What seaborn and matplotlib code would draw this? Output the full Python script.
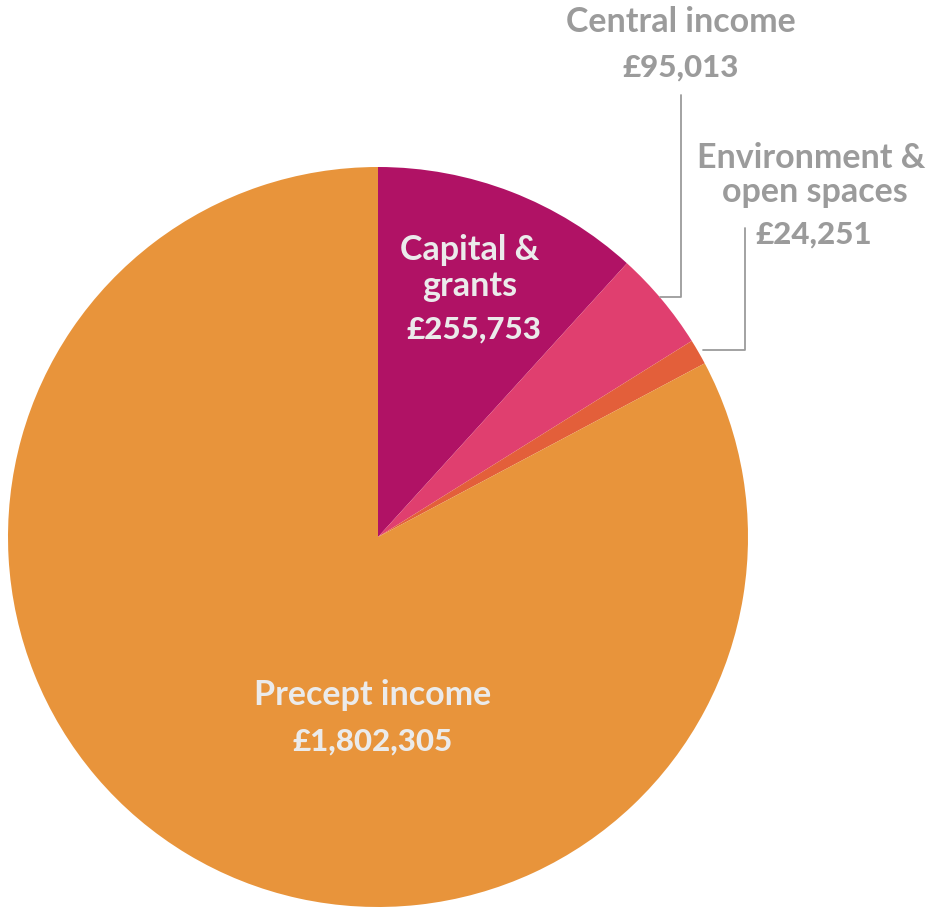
import matplotlib
matplotlib.use("Agg")
import matplotlib.pyplot as plt
import seaborn as sns

# -----------------------------
# Data
# -----------------------------
categories = ["Capital & grants", "Central income", "Environment & open spaces", "Precept income"]
values = [255753, 95013, 24251, 1802305]
value_labels = ["£255,753", "£95,013", "£24,251", "£1,802,305"]
slice_colors = ["#B01265", "#E03F6F", "#E35F3A", "#E8943B"]

# -----------------------------
# Style
# -----------------------------
sns.set_theme(style="white")
plt.rcParams['font.family'] = ['Lato', 'DejaVu Sans']
palette = sns.color_palette(slice_colors)

light = "#EBEBEB"
grey = "#9B9B9B"

W, H = 940, 908
fig = plt.figure(figsize=(W / 100, H / 100), dpi=100)
ax = fig.add_axes([0, 0, 1, 1])

cx, cy, r = 378, H - 537, 370
ax.pie(values, colors=palette, startangle=90, counterclock=False,
       center=(cx, cy), radius=r, wedgeprops=dict(linewidth=0))
ax.set_xlim(0, W)
ax.set_ylim(0, H)
ax.set_aspect("equal")
ax.axis("off")


def txt(x, y, s, color, size=24.5, weight="bold"):
    ax.text(x, H - y, s, ha="center", va="center", color=color,
            fontsize=size, fontweight=weight)


# labels inside slices
txt(470, 250, "Capital &", light)
txt(470, 286, "grants", light)
txt(474, 330, value_labels[0], light, 22.5, "black")

txt(373, 695, "Precept income", light)
txt(373, 742, value_labels[3], light, 22.5, "black")

# outside labels
txt(681, 22, "Central income", grey)
txt(681, 68, value_labels[1], grey, 22.5, "black")

txt(811, 158, "Environment &", grey)
txt(815, 192, "open spaces", grey)
txt(814, 235, value_labels[2], grey, 22.5, "black")

# leader lines
ax.plot([681, 681, 660], [H - 95, H - 297, H - 297], color=grey, lw=1.3)
ax.plot([745, 745, 703], [H - 228, H - 350, H - 350], color=grey, lw=1.3)

fig.savefig("out.png", dpi=100, facecolor="white")
